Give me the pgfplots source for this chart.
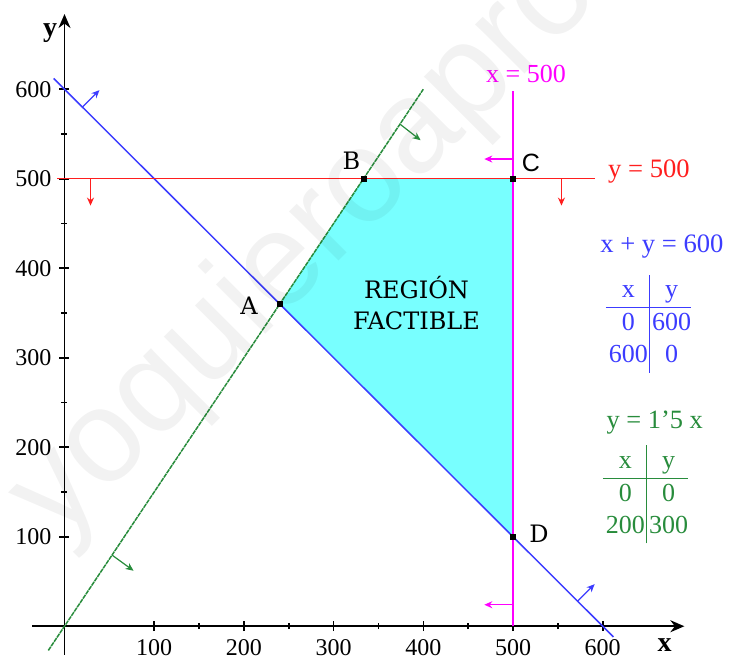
\documentclass[border=0pt]{standalone}
\usepackage{pgfplots}
\pgfplotsset{compat=1.18}
\usetikzlibrary{arrows.meta}
\usepackage{fontspec}
\setmainfont{Liberation Serif}
\setsansfont{Liberation Sans}
\newfontfamily\slabfont{DejaVu Serif}

\definecolor{lblue}{RGB}{60,60,255}
\definecolor{lred}{RGB}{255,30,30}
\definecolor{lmag}{RGB}{255,0,255}
\definecolor{lgreen}{RGB}{40,140,60}
\definecolor{fillcyan}{RGB}{120,255,255}

\begin{document}
\begin{tikzpicture}
\begin{axis}[
    x=0.4485pt, y=0.4475pt,
    xmin=-36, xmax=691, ymin=-32, ymax=684,
    axis lines=middle,
    axis line style={line width=0.9pt, -{Stealth[length=7pt,width=6pt]}},
    xtick={100,200,...,600}, ytick={100,200,...,600},
    minor tick num=1,
    tick align=center,
    major tick length=5pt, minor tick length=3pt,
    tick style={black, line width=0.8pt},
    ticklabel style={font=\fontsize{12}{14}\selectfont},
    xticklabel style={yshift=-0.5pt},
    yticklabel style={xshift=-0.5pt},
    /pgf/number format/assume math mode=true,
    clip=false,
]
\coordinate (bbsw) at (axis cs:-71.9,-36.6);
\coordinate (bbne) at (axis cs:741.9,699.7);

% feasible region
\addplot[fill=fillcyan, draw=none] coordinates {(240,360) (333.33,500) (500,500) (500,100)} -- cycle;

% constraint lines
\addplot[lblue, line width=0.75pt] coordinates {(-12,612) (612,-12)};
\addplot[lred, line width=0.75pt] coordinates {(-8,500) (591,500)};
\addplot[lmag, line width=0.75pt] coordinates {(500,0) (500,598)};
\addplot[lgreen, line width=0.75pt, dash pattern=on 2.2pt off 0.4pt] coordinates {(-18,-27) (400,600)};

% half-plane arrows
\addplot[lblue, line width=0.6pt, -{Stealth[length=4pt,width=3.5pt]}] coordinates {(20,580) (39,599)};
\addplot[lblue, line width=0.6pt, -{Stealth[length=4pt,width=3.5pt]}] coordinates {(572,28) (591,47)};
\addplot[lred, line width=0.6pt, -{Stealth[length=4pt,width=3.5pt]}] coordinates {(29,500) (29,470)};
\addplot[lred, line width=0.6pt, -{Stealth[length=4pt,width=3.5pt]}] coordinates {(554,500) (554,470)};
\addplot[lmag, line width=0.6pt, -{Stealth[length=4pt,width=3.5pt]}] coordinates {(500,522) (468,522)};
\addplot[lmag, line width=0.6pt, -{Stealth[length=4pt,width=3.5pt]}] coordinates {(500,24) (468,24)};
\addplot[lgreen, line width=0.6pt, -{Stealth[length=4pt,width=3.5pt]}] coordinates {(374,561) (397,543)};
\addplot[lgreen, line width=0.6pt, -{Stealth[length=4pt,width=3.5pt]}] coordinates {(53,79.5) (77,62)};

% vertices
\addplot[only marks, mark=square*, mark size=1.3pt, black] coordinates {(240,360) (333.33,500) (500,500) (500,100)};

\node[font=\slabfont\fontsize{12}{14}\selectfont] at (axis cs:205.7,357.8) {A};
\node[font=\slabfont\fontsize{12}{14}\selectfont] at (axis cs:320,519.8) {B};
\node[font=\sffamily\fontsize{12.5}{14}\selectfont] at (axis cs:520,517.5) {C};
\node[font=\slabfont\fontsize{12}{14}\selectfont] at (axis cs:529,103) {D};
\node[font=\slabfont\fontsize{12}{15.5}\selectfont, align=center] at (axis cs:392.4,361) {REGIÓN\\FACTIBLE};

% line labels
\node[lmag, font=\fontsize{13}{15}\selectfont] at (axis cs:514.5,617) {x = 500};
\node[lred, font=\fontsize{13.3}{15}\selectfont] at (axis cs:651.6,507.5) {y = 500};
\node[lblue, font=\fontsize{13.3}{15}\selectfont] at (axis cs:666,423.7) {x + y = 600};
\node[lgreen, font=\fontsize{13.2}{15}\selectfont] at (axis cs:658,227) {y = 1'5 x};

% value tables
\node[lblue, font=\fontsize{13}{15}\selectfont, inner sep=0pt] at (axis cs:651,338.2)
  {\renewcommand\arraystretch{1.08}\begin{tabular}{@{\hspace{1.5pt}}c@{\hspace{1pt}}|@{\hspace{1pt}}c@{}}
   x & y\\\hline 0 & 600\\ 600 & 0\end{tabular}};
\node[lgreen, font=\fontsize{13}{15}\selectfont, inner sep=0pt] at (axis cs:647.7,147.2)
  {\renewcommand\arraystretch{1.08}\begin{tabular}{@{\hspace{1.5pt}}c@{\hspace{1pt}}|@{\hspace{1pt}}c@{}}
   x & y\\\hline 0 & 0\\ 200 & 300\end{tabular}};

% axis names
\node[font=\bfseries\fontsize{14}{15}\selectfont] at (axis cs:669,-21) {x};
\node[font=\bfseries\fontsize{14}{15}\selectfont] at (axis cs:-16,663) {y};

% watermark
\node[anchor=base west, rotate=45, black, opacity=0.05, font=\sffamily\fontsize{66}{70}\selectfont, inner sep=0pt]
  at (axis cs:-8.4,93) {yoquieroaprobar};
\end{axis}
\pgfresetboundingbox
\useasboundingbox (bbsw) rectangle (bbne);
\end{tikzpicture}
\end{document}
